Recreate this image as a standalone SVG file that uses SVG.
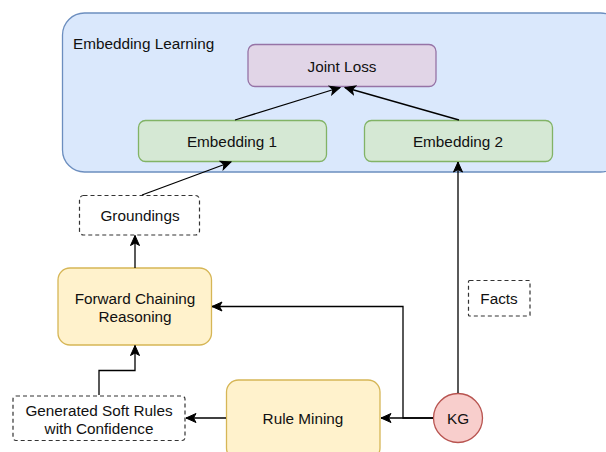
<svg xmlns="http://www.w3.org/2000/svg" width="606" height="452" viewBox="0 0 606 452">
<style>
text{font-family:"Liberation Sans",Arial,sans-serif;font-size:15.3px;fill:#111;text-anchor:middle;dominant-baseline:central}
.edge{fill:none;stroke:#000;stroke-width:1.3}
.dash{fill:#fff;stroke:#333;stroke-width:1.2;stroke-dasharray:4 3}
.yellow{fill:#fff2cc;stroke:#d6b656;stroke-width:1.3}
.green{fill:#d5e8d4;stroke:#82b366;stroke-width:1.3}
</style>
<defs>
<marker id="arr" markerUnits="userSpaceOnUse" markerWidth="12" markerHeight="12" viewBox="0 0 12 12" refX="11" refY="6" orient="auto">
<path d="M1,1.5 L11,6 L1,10.5 L3.5,6 Z" fill="#000" stroke="#000" stroke-width="1"/>
</marker>
</defs>
<rect width="606" height="452" fill="#fff"/>
<g id="embedding-learning">
<rect x="62.5" y="13" width="560" height="159" rx="22" fill="#dae8fc" stroke="#6c8ebf" stroke-width="1.3"/>
<text x="73" y="43" style="text-anchor:start">Embedding Learning</text>
</g>
<g id="joint-loss">
<rect x="248" y="44.5" width="188" height="42" rx="7" fill="#e1d5e7" stroke="#9673a6" stroke-width="1.3"/>
<text x="342" y="66">Joint Loss</text>
</g>
<g id="embedding-1">
<rect x="138.5" y="120.5" width="188" height="41" rx="7" class="green"/>
<text x="232" y="141.5">Embedding 1</text>
</g>
<g id="embedding-2">
<rect x="364.5" y="120.5" width="188" height="41" rx="7" class="green"/>
<text x="458" y="141.5">Embedding 2</text>
</g>
<g id="groundings">
<rect x="79.5" y="195.5" width="120" height="39.5" rx="4" class="dash"/>
<text x="140" y="215.5">Groundings</text>
</g>
<g id="forward-chaining">
<rect x="58" y="268" width="153.5" height="77" rx="12" class="yellow"/>
<text x="135" y="298">Forward Chaining</text>
<text x="135" y="316">Reasoning</text>
</g>
<g id="soft-rules">
<rect x="13" y="396" width="172" height="44.5" rx="3" class="dash"/>
<text x="99" y="410">Generated Soft Rules</text>
<text x="99" y="428">with Confidence</text>
</g>
<g id="rule-mining">
<rect x="226.5" y="380" width="153.5" height="80" rx="12" class="yellow"/>
<text x="303" y="418">Rule Mining</text>
</g>
<g id="kg">
<circle cx="458" cy="418" r="24.5" fill="#f8cecc" stroke="#b85450" stroke-width="1.3"/>
<text x="458" y="418">KG</text>
</g>
<g id="facts">
<rect x="468.5" y="280.5" width="61.5" height="35.5" rx="1" class="dash"/>
<text x="499" y="298.5">Facts</text>
</g>
<g id="connectors">
<path class="edge" d="M235,120 L340,87.5" marker-end="url(#arr)"/>
<path class="edge" d="M459,120 L345,87.5" marker-end="url(#arr)"/>
<path class="edge" d="M142,195 L231,162" marker-end="url(#arr)"/>
<path class="edge" d="M135,268 L135,235.5" marker-end="url(#arr)"/>
<path class="edge" d="M99,395 L99,370.5 L135,370.5 L135,345.5" marker-end="url(#arr)"/>
<path class="edge" d="M226,418 L186,418" marker-end="url(#arr)"/>
<path class="edge" d="M433,418 L381,418" marker-end="url(#arr)"/>
<path class="edge" d="M433,418 L403,418 L403,306.5 L212,306.5" marker-end="url(#arr)"/>
<path class="edge" d="M458,393 L458,162" marker-end="url(#arr)"/>
</g>
</svg>
